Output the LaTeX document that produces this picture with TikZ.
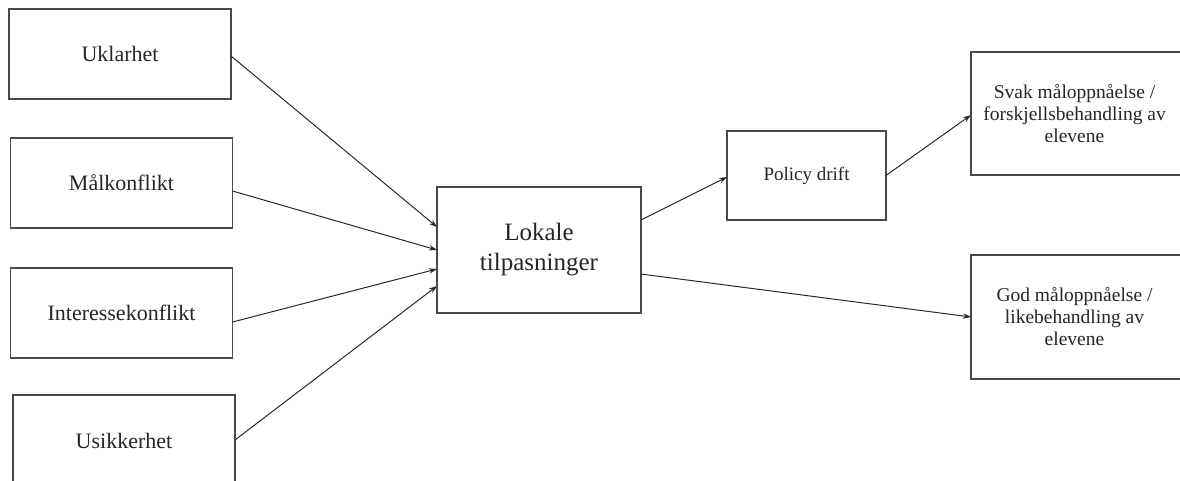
\documentclass[tikz,border=0pt]{standalone}
\usepackage{fontspec}
\setmainfont{Liberation Serif}
\usetikzlibrary{arrows.meta}
\definecolor{boxline}{HTML}{4A4A4A}
\definecolor{conn}{HTML}{2A2A2A}
\tikzset{
  box/.style={draw=boxline, line width=1.3pt, fill=white, inner sep=0pt, outer sep=0pt, align=center, text=black!85},
  leftbox/.style={box, minimum width=222pt, minimum height=90pt, font=\fontsize{22}{26}\selectfont},
  outbox/.style={box, draw=none, minimum width=207pt, minimum height=123pt, font=\fontsize{19.5}{22}\selectfont},
  openedge/.style={draw=boxline, line width=1.3pt},
  conn/.style={draw=conn, line width=1pt, -{Stealth[length=8pt,width=5.5pt]}}
}
\begin{document}
\begin{tikzpicture}[x=1pt,y=-1pt]
\useasboundingbox (0,0) rectangle (1180,481);
\node[leftbox] (ukl) at (120,54) {Uklarhet};
\node[leftbox] (mal) at (121.5,183) {Målkonflikt};
\node[leftbox] (int) at (121.5,313) {Interessekonflikt};
\node[leftbox, minimum height=92pt] (usi) at (124,441) {Usikkerhet};
\node[box, minimum width=204pt, minimum height=126pt, font=\fontsize{25}{30}\selectfont] (lok) at (539,250) {Lokale\\tilpasninger};
\node[box, minimum width=159pt, minimum height=89pt, font=\fontsize{19}{22}\selectfont] (pol) at (806.5,175.5) {Policy drift};
\node[outbox] (svak) at (1074.5,113.5) {Svak måloppnåelse /\\forskjellsbehandling av\\elevene};
\node[outbox, minimum height=124pt] (god) at (1074.5,317) {God måloppnåelse /\\likebehandling av\\elevene};
\draw[openedge] ([xshift=8pt]svak.north east) -- (svak.north west) -- (svak.south west) -- ([xshift=8pt]svak.south east);
\draw[openedge] ([xshift=8pt]god.north east) -- (god.north west) -- (god.south west) -- ([xshift=8pt]god.south east);

\draw[conn] ([yshift=-2pt]ukl.east) -- ([yshift=23pt]lok.west);
\draw[conn] ([yshift=-8pt]mal.east) -- (lok.west);
\draw[conn] ([yshift=-9pt]int.east) -- ([yshift=-19pt]lok.west);
\draw[conn] ([yshift=1pt]usi.east) -- ([yshift=-36pt]lok.west);
\draw[conn] ([yshift=30pt]lok.east) -- ([yshift=-1.5pt]pol.west);
\draw[conn] ([yshift=-24pt]lok.east) -- (god.west);
\draw[conn] (pol.east) -- ([yshift=-1.5pt]svak.west);
\end{tikzpicture}
\end{document}
